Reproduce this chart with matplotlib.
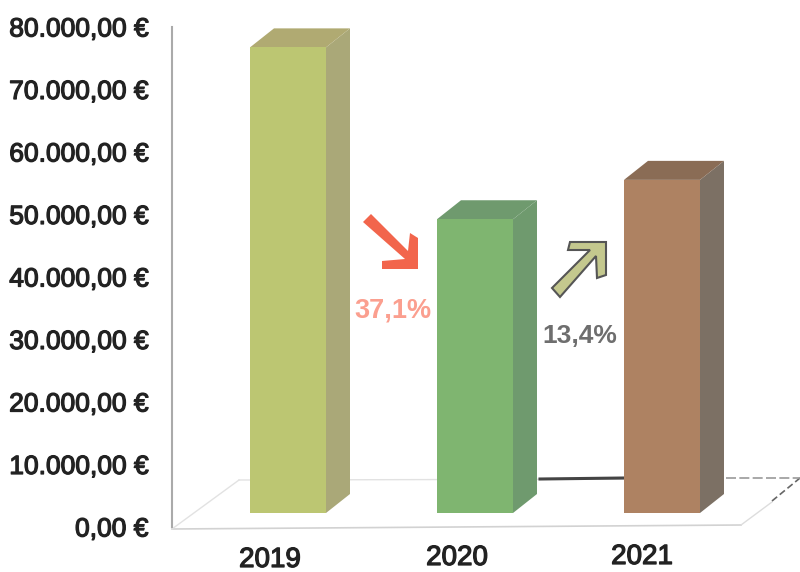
import matplotlib
matplotlib.use("Agg")
import matplotlib.pyplot as plt
import matplotlib.patheffects as pe

# chart values
anni = ["2019", "2020", "2021"]
valori = [74500, 47000, 53300]
yticks = [0, 10000, 20000, 30000, 40000, 50000, 60000, 70000, 80000]
ylabels = ["0,00 €", "10.000,00 €", "20.000,00 €", "30.000,00 €", "40.000,00 €",
           "50.000,00 €", "60.000,00 €", "70.000,00 €", "80.000,00 €"]
var_testi = ["37,1%", "13,4%"]

# face colours: front, side, top
fronte = ["#bcc672", "#7fb570", "#ae8262"]
lato = ["#aaa878", "#6f9a6e", "#7c7064"]
sopra = ["#b0aa72", "#6f9a6e", "#8a6c55"]

plt.rcParams["font.family"] = ["Liberation Sans", "DejaVu Sans"]
W, H = 800, 572
fig = plt.figure(figsize=(8, 5.72), dpi=100, facecolor="white")

# pixel layer for floor and arrows, behind the chart
bg = fig.add_axes([0, 0, 1, 1], zorder=0)
bg.set_xlim(0, W)
bg.set_ylim(H, 0)
bg.axis("off")
bg.plot([172, 741], [529, 525], color="#d2d2d2", lw=1.2)
bg.plot([172, 239], [529, 480], color="#e2e2e2", lw=1)
bg.plot([239, 700], [480, 479], color="#e2e2e2", lw=1)
bg.plot([741, 772], [525, 502], color="#dddddd", lw=1)
bg.plot([772, 800], [501, 478], color="#666666", lw=1.2, ls=(0, (4, 2)))
bg.plot([726, 800], [478, 478], color="#9a9a9a", lw=1.2, ls=(0, (6, 2)))
bg.plot([540, 624], [479, 478], color="#444444", lw=2.2)

# arrows
bg.fill([363, 371, 408, 410, 418, 418, 382, 382, 405],
        [222, 214, 251, 233, 238, 269, 269, 261, 259],
        color="#f2654c", lw=0)
bg.fill([552, 560, 596, 597, 606, 606, 570, 568, 590],
        [288, 297, 256, 278, 275, 242, 242, 250, 250],
        facecolor="#c4c88e", edgecolor="#555555", lw=1.5)

main = fig.add_axes([172 / W, 1 - 527 / H, (W - 172) / W, 500 / H], zorder=1)
main.patch.set_alpha(0)
main.set_ylim(0, 80000)
main.set_xlim(-116 / 187, 512 / 187)

# 3D look: floor offset and depth, same scale as the axis
base = 2240
larg = 76 / 187
dx = 24 / 187
dy = 3040
x = list(range(len(anni)))
main.bar(x, valori, width=larg, bottom=base, color=fronte, lw=0, zorder=3)
for i, v in enumerate(valori):
    sx = i + larg / 2
    top = base + v
    main.fill([sx, sx + dx, sx + dx, sx], [base, base + dy, top + dy, top],
              color=lato[i], lw=0, zorder=2)
    main.fill([i - larg / 2, i - larg / 2 + dx, sx + dx, sx], [top, top + dy, top + dy, top],
              color=sopra[i], lw=0, zorder=2)

main.set_yticks(yticks)
main.set_yticklabels(ylabels, fontsize=19, color="#222222")
main.tick_params(axis="y", length=0, pad=17)
main.set_xticks([])
for lab in main.get_yticklabels():
    lab.set_path_effects([pe.withStroke(linewidth=0.9, foreground="#222222")])
for s in ["top", "right", "bottom"]:
    main.spines[s].set_visible(False)
main.spines["left"].set_color("#aaaaaa")
main.spines["left"].set_linewidth(1.5)

# year labels sit left of the bar centres, slightly sloped like the scan
for t, xp, yp in zip(anni, [270, 457, 642], [560, 558, 557]):
    bg.text(xp, yp, t, fontsize=20, color="#222222", ha="center", va="center",
            path_effects=[pe.withStroke(linewidth=0.9, foreground="#222222")])

bg.text(393, 310, var_testi[0], fontsize=19.5, fontweight="bold", color="#fb9f8f",
        ha="center", va="center")
bg.text(580, 336, var_testi[1], fontsize=19, fontweight="bold", color="#6e6e6e",
        ha="center", va="center")

fig.savefig("out.png", dpi=100)
